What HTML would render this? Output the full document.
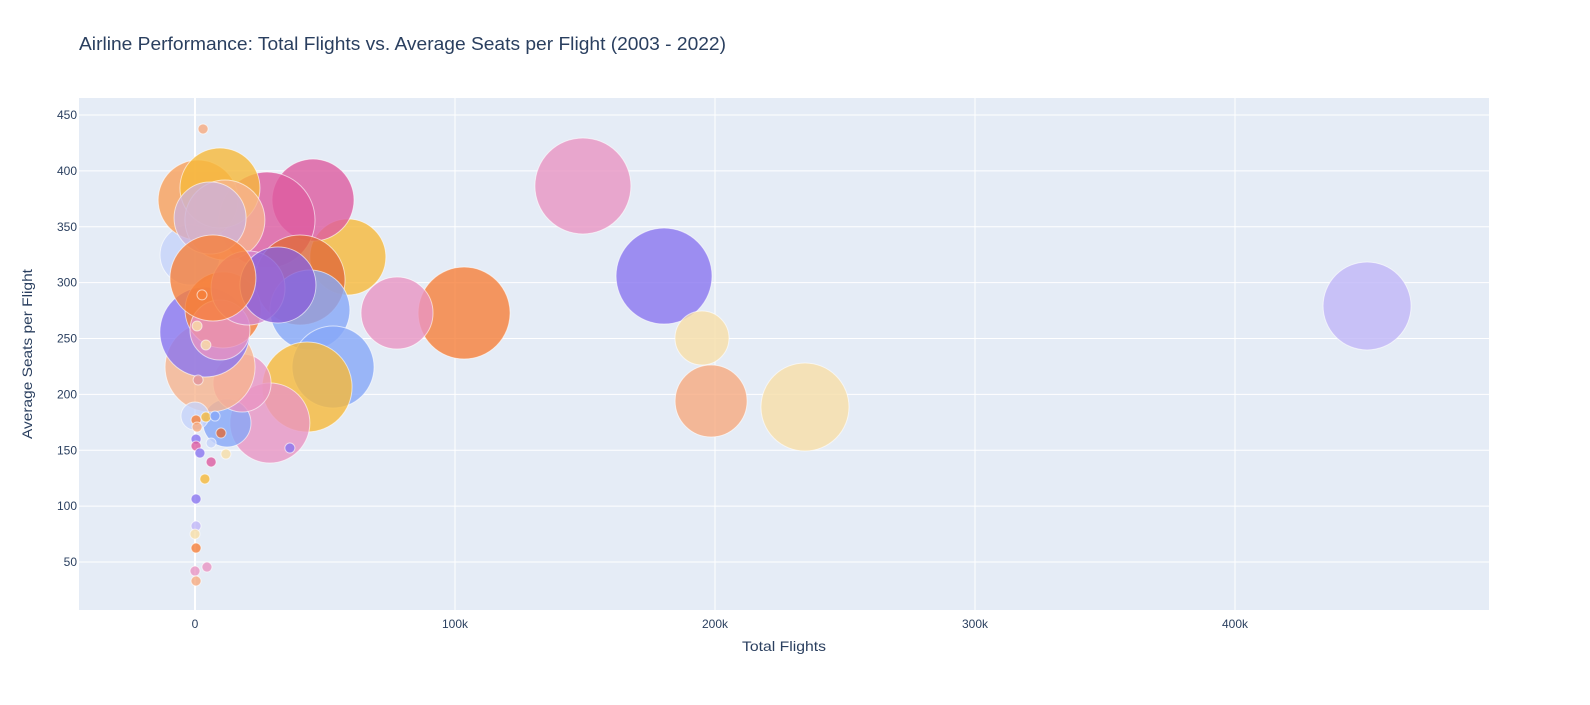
<!DOCTYPE html>
<html><head><meta charset="utf-8"><style>
body{margin:0;background:#fff;font-family:"Liberation Sans",Arial,sans-serif}
svg text{font-family:"Liberation Sans",Arial,sans-serif;fill:#2a3f5f}
</style></head><body>
<svg id="chart" width="1590" height="700">
<text x="79" y="50" font-size="18" textLength="647" lengthAdjust="spacingAndGlyphs">Airline Performance: Total Flights vs. Average Seats per Flight (2003 - 2022)</text>
<rect x="79" y="98" width="1410" height="512" fill="#e5ecf6"/>
<g id="grid"></g><g id="marks"></g><g id="ticks"></g>
<text x="784" y="651" font-size="14" text-anchor="middle" textLength="84" lengthAdjust="spacingAndGlyphs">Total Flights</text>
<text transform="translate(32,354) rotate(-90)" font-size="14" text-anchor="middle" textLength="170" lengthAdjust="spacingAndGlyphs">Average Seats per Flight</text>
</svg>
<script>
const xTicks=[0,100000,200000,300000,400000];
const xTickLabels=["0","100k","200k","300k","400k"];
const yTicks=[50,100,150,200,250,300,350,400,450];
const flights=[149200,180400,450800,195000,198500,234600,103500,77700,58800,45400,27700,40400,44200,53100,43100,28800,12300,18100,5800,3800,-1900,1200,9600,11500,10800,9600,20400,31900,6900,5800,
0,3100,800,4200,1200,2700,400,800,400,400,1900,6200,11900,3800,400,400,0,400,0,4600,400,6200,4200,7700,10000,36500];
const seats=[386.5,305.9,279.1,250.4,194.1,188.7,272.8,272.8,322.9,373.9,356,302.3,275.5,224.5,206.6,174.4,174.4,210.2,224.5,255.8,324.7,373.9,384.7,356,275.5,257.6,295.2,297.9,304.1,357.8,
180.6,437.5,261.2,244.2,212.9,289,177.1,170.8,160,153.8,147.5,139.5,146.6,124.3,106.4,82.2,75,62.5,41.9,45.5,33,156.5,179.7,180.6,165.4,152];
const sizes=[96,96,88,54,72,88,92,72,76,82,96,90,80,82,90,80,48,58,90,90,60,80,80,80,76,60,74,76,86,72,
28,10,10,10,10,10,10,10,10,10,10,10,10,10,10,10,10,10,10,10,10,10,10,10,10,10];
const colors=["#E895C3","#8A76F0","#C1B6F7","#F8DFA8","#F6AA80","#F7DEA8","#F6803A","#E895C3","#F6B93A","#DD5BA0","#DD5BA0","#E06A3A","#86A8F8","#86A8F8","#F6B93A","#E895C3","#86A8F8","#E895C3","#F6B48F","#8A76F0","#C5D3FA","#F9A05A","#F6B93A","#F6B48F","#F6803A","#E895C3","#D58ACF","#8A60D8","#F6803A","#CDB2D8",
"#C5D3FA","#F6AA80","#F8DFA8","#F8DFA8","#E0949C","#F6803A","#F6803A","#F6AA80","#8A76F0","#DD5BA0","#8A76F0","#DD5BA0","#F8DFA8","#F6B93A","#8A76F0","#C1B6F7","#F8DFA8","#F6803A","#E895C3","#E895C3","#F6AA80","#C5D3FA","#F6B93A","#86A8F8","#E06A3A","#8A76F0"];
const ns="http://www.w3.org/2000/svg";
const X=v=>195+v*260/100000, Y=v=>115+(450-v)*447/400;
const grid=document.getElementById('grid'),ticks=document.getElementById('ticks'),marks=document.getElementById('marks');
xTicks.forEach((t,i)=>{
 const l=document.createElementNS(ns,'line');
 
 
 l.setAttribute('x1',X(t));l.setAttribute('x2',X(t));l.setAttribute('y1',98);l.setAttribute('y2',610);
 l.setAttribute('stroke','#fff');l.setAttribute('stroke-width',t===0?2:1);grid.appendChild(l);
 const tx=document.createElementNS(ns,'text');
 
 
 tx.setAttribute('x',X(t));tx.setAttribute('y',628);tx.setAttribute('font-size','12');tx.setAttribute('text-anchor','middle');
 tx.textContent=xTickLabels[i];ticks.appendChild(tx);
});
yTicks.forEach(t=>{
 const l=document.createElementNS(ns,'line');
 
 
 l.setAttribute('x1',79);l.setAttribute('x2',1489);l.setAttribute('y1',Y(t));l.setAttribute('y2',Y(t));
 l.setAttribute('stroke','#fff');grid.appendChild(l);
 const tx=document.createElementNS(ns,'text');
 
 
 tx.setAttribute('x',77);tx.setAttribute('y',Y(t)+4);tx.setAttribute('font-size','12');tx.setAttribute('text-anchor','end');
 tx.textContent=t;ticks.appendChild(tx);
});
const order=[...Array(flights.length).keys()];
order.splice(order.indexOf(28),1);order.splice(30,0,28);
order.forEach(i=>{
 const c=document.createElementNS(ns,'circle');
 
 
 c.setAttribute('cx',X(flights[i]));c.setAttribute('cy',Y(seats[i]));c.setAttribute('r',sizes[i]/2);
 c.setAttribute('fill',colors[i]);c.setAttribute('fill-opacity','0.8');
 c.setAttribute('stroke','#fff');c.setAttribute('stroke-opacity','0.6');c.setAttribute('stroke-width','1');
 marks.appendChild(c);
});
</script>
</body></html>
